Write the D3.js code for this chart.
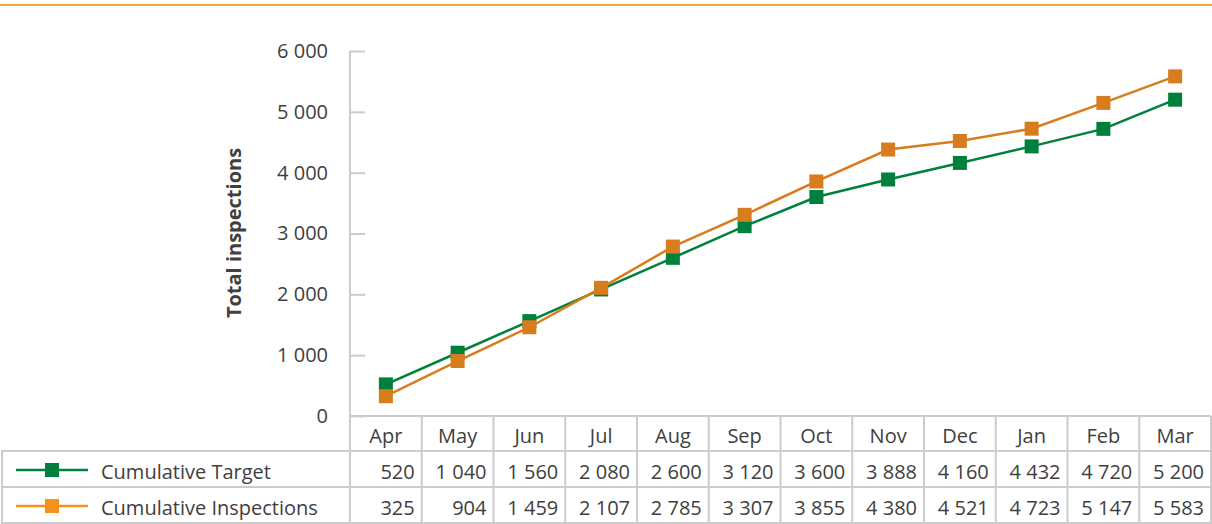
<!DOCTYPE html>
<html><head><meta charset="utf-8">
<script src="https://cdn.jsdelivr.net/npm/d3@7"></script>
<style>body{margin:0;background:#fff}svg{display:block}text{font-family:"Open Sans","Noto Sans",sans-serif;fill:#404040}</style>
</head><body><svg id="c" width="1212" height="524"></svg>
<script>
const months = ["Apr","May","Jun","Jul","Aug","Sep","Oct","Nov","Dec","Jan","Feb","Mar"];
const target = [520,1040,1560,2080,2600,3120,3600,3888,4160,4432,4720,5200];
const inspections = [325,904,1459,2107,2785,3307,3855,4380,4521,4723,5147,5583];
const yTicks = [0,1000,2000,3000,4000,5000,6000];
const seriesNames = ["Cumulative Target","Cumulative Inspections"];

const svg = d3.select("#c");
const fmt = d3.formatLocale({decimal:".",thousands:" ",grouping:[3],currency:["",""]}).format(",d");
const grid = "#cccccc";
const cols = [{name:seriesNames[0], values:target, line:"#00803d", legend:"#00803d"},
              {name:seriesNames[1], values:inspections, line:"#d87d1e", legend:"#f5921e"}];

// top rule
svg.append("line").attr("x1",0).attr("x2",1212).attr("y1",5).attr("y2",5)
  .attr("stroke","#f5a347").attr("stroke-width",2);

const x = d3.scaleBand().domain(months).range([350,1211]);
const y = d3.scaleLinear().domain([0,6000]).range([416,51]);

// axis
const ax = svg.append("g").attr("transform","translate(350,0)")
  .call(d3.axisLeft(y).tickValues(yTicks).tickSize(-15).tickSizeOuter(0).tickPadding(22).tickFormat(fmt));
ax.select(".domain").remove();
ax.selectAll(".tick line").attr("stroke",grid).attr("stroke-width",2);
ax.selectAll(".tick text").attr("font-size",20).style("fill","#404040");

svg.append("text").attr("transform","translate(241,233) rotate(-90)")
  .attr("text-anchor","middle").attr("font-size",20).attr("font-weight","bold").text("Total inspections");

// table lines
const tg = svg.append("g").attr("stroke",grid).attr("stroke-width",2);
tg.append("line").attr("x1",350).attr("x2",350).attr("y1",51).attr("y2",523);
tg.append("line").attr("x1",349).attr("x2",1211).attr("y1",416).attr("y2",416);
[451,487,523].forEach(v=>tg.append("line").attr("x1",1).attr("x2",1211).attr("y1",v).attr("y2",v));
tg.append("line").attr("x1",2).attr("x2",2).attr("y1",450).attr("y2",524);
months.forEach(m=>{
  const xe = x(m)+x.bandwidth();
  tg.append("line").attr("x1",xe).attr("x2",xe).attr("y1",416).attr("y2",524);
});

// header
svg.append("g").selectAll("text").data(months).join("text")
  .attr("x",d=>x(d)+x.bandwidth()/2).attr("y",443).attr("text-anchor","middle")
  .attr("font-size",20).text(d=>d);

// rows
const rowY = [479,515];
cols.forEach((c,i)=>{
  svg.append("g").selectAll("text").data(c.values).join("text")
    .attr("x",(d,j)=>x(months[j])+x.bandwidth()-7).attr("y",rowY[i]).attr("text-anchor","end")
    .attr("font-size",20).text(d=>fmt(d));
  const ly = rowY[i]-9;
  svg.append("line").attr("x1",16).attr("x2",88).attr("y1",ly).attr("y2",ly)
    .attr("stroke",c.legend).attr("stroke-width",2.5);
  svg.append("rect").attr("x",45).attr("y",ly-7).attr("width",14).attr("height",14).attr("fill",c.legend);
  svg.append("text").attr("x",101).attr("y",rowY[i]).attr("font-size",20).text(c.name);
});

// series
const line = d3.line().x((d,j)=>x(months[j])+x.bandwidth()/2).y(d=>y(d));
cols.forEach(c=>{
  svg.append("path").datum(c.values).attr("d",line).attr("fill","none")
    .attr("stroke",c.line).attr("stroke-width",2.5);
  svg.append("g").selectAll("rect").data(c.values).join("rect")
    .attr("x",(d,j)=>x(months[j])+x.bandwidth()/2-7).attr("y",d=>y(d)-7)
    .attr("width",14).attr("height",14).attr("fill",c.line);
});
</script></body></html>
